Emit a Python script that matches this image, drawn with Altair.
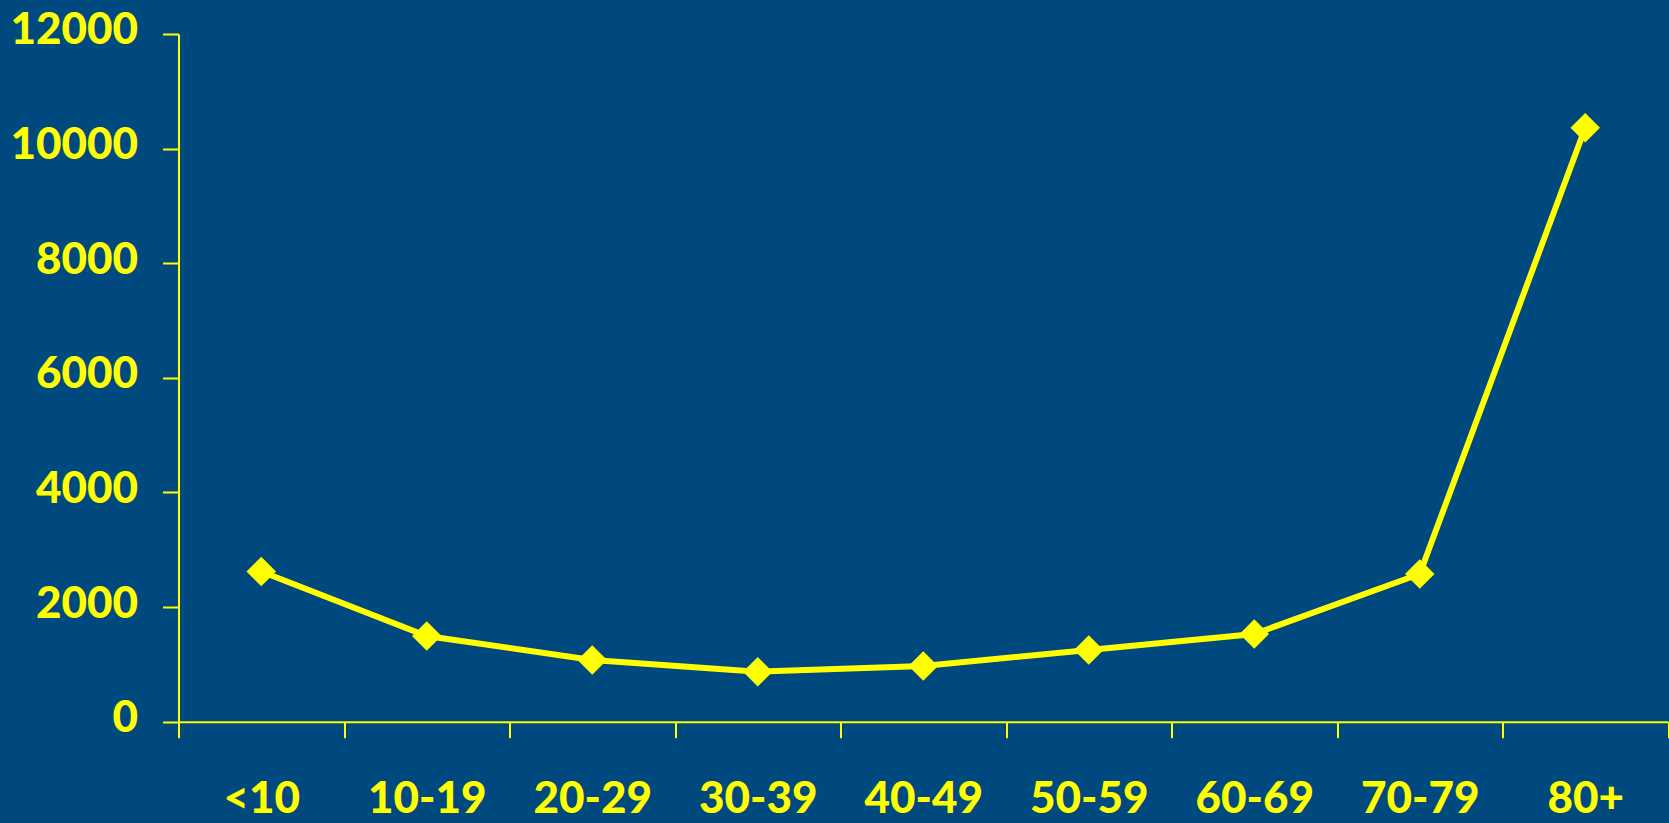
import altair as alt
import pandas as pd

# Age bands and their counts
age_groups = ["<10", "10-19", "20-29", "30-39", "40-49", "50-59", "60-69", "70-79", "80+"]
counts = [2620, 1495, 1077, 873, 972, 1251, 1530, 2577, 10365]
y_ticks = [0, 2000, 4000, 6000, 8000, 10000, 12000]

df = pd.DataFrame({"age": age_groups, "count": counts})

YELLOW = "#FFFF00"
BG = "#00497F"
FONT = "Lato"

x_enc = alt.X(
    "age:N",
    sort=age_groups,
    bandPosition=0.5,
    scale=alt.Scale(type="band", paddingInner=0, paddingOuter=0),
    axis=alt.Axis(
        title=None,
        labelAngle=0,
        tickBand="extent",
        labelBaseline="alphabetic",
        labelPadding=75,
        labelOverlap=False,
    ),
)
y_enc = alt.Y(
    "count:Q",
    scale=alt.Scale(domain=[0, 12000], nice=False, zero=True),
    axis=alt.Axis(
        title=None,
        values=y_ticks,
        format="d",
        grid=False,
        labelPadding=25,
        labelBaseline="alphabetic",
        labelOffset=10,
        labelOverlap=False,
        labelFlush=False,
    ),
)

base = alt.Chart(df)
line = base.mark_line(color=YELLOW, strokeWidth=6).encode(x=x_enc, y=y_enc)
points = base.mark_point(
    shape="diamond", filled=True, size=870, color=YELLOW, opacity=1
).encode(x=x_enc, y=y_enc)

chart = (
    alt.layer(line, points)
    .properties(
        width=1489.5,
        height=687.7,
        background=BG,
        autosize=alt.AutoSizeParams(type="none"),
        padding={"left": 178.5, "top": 34, "right": 1, "bottom": 101},
    )
    .configure_view(stroke=None)
    .configure_axis(
        domainColor=YELLOW,
        domainWidth=2,
        tickColor=YELLOW,
        tickWidth=2,
        tickSize=16,
        labelColor=YELLOW,
        labelFont=FONT,
        labelFontSize=44,
        labelFontWeight=900,
    )
)

chart.save("out.html", embed_options={"renderer": "svg", "actions": False})
